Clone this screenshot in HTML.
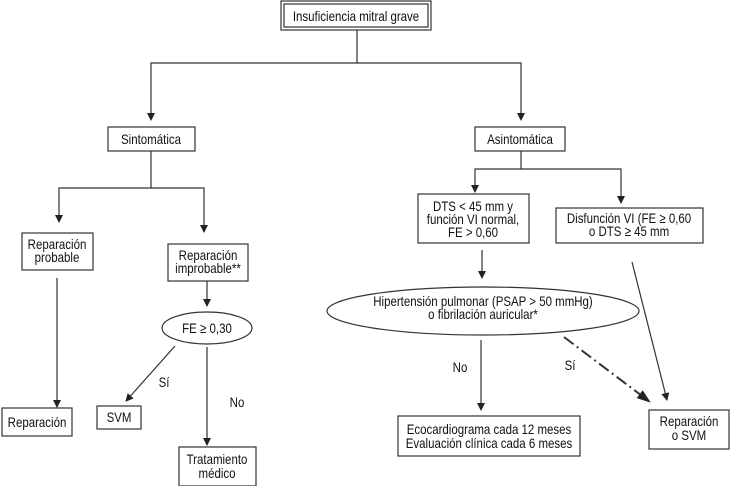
<!DOCTYPE html>
<html><head><meta charset="utf-8"><style>
body{margin:0;background:#fff}
svg text{font-family:"Liberation Sans Narrow","Liberation Sans",sans-serif;font-size:14px;fill:#111;text-anchor:middle}
</style></head><body>
<svg width="730" height="486" viewBox="0 0 730 486" xmlns="http://www.w3.org/2000/svg">
<defs><marker id="a" markerWidth="8" markerHeight="8" refX="7" refY="4" orient="auto" markerUnits="userSpaceOnUse"><path d="M0,0 L8,4 L0,8 z" fill="#222"/></marker>
<marker id="b" markerWidth="14" markerHeight="10" refX="13" refY="5" orient="auto" markerUnits="userSpaceOnUse"><path d="M0,0 L14,5 L0,10 z" fill="#222"/></marker></defs>
<g fill="none" stroke="#333" stroke-width="1.2">
<rect x="281" y="1" width="150" height="29"/><rect x="284" y="4" width="144" height="23"/>
<polyline points="357,30 357,63 151,63 151,120" marker-end="url(#a)"/>
<polyline points="357,63 521,63 521,120" marker-end="url(#a)"/>
<rect x="108" y="127" width="87" height="24"/>
<rect x="475" y="127" width="90" height="24"/>
<polyline points="151,151 151,188 59,188 59,222" marker-end="url(#a)"/>
<polyline points="151,188 204,188 204,232" marker-end="url(#a)"/>
<polyline points="521,151 521,169 475,169 475,192" marker-end="url(#a)"/>
<polyline points="521,169 621,169 621,203" marker-end="url(#a)"/>
<rect x="418" y="194" width="111" height="49"/>
<rect x="556" y="208" width="147" height="35"/>
<rect x="22" y="233" width="71" height="37"/>
<rect x="168" y="244" width="80" height="37"/>
<line x1="207" y1="281" x2="207" y2="306" marker-end="url(#a)"/>
<ellipse cx="207" cy="328" rx="45" ry="16"/>
<line x1="57" y1="278" x2="57" y2="407" marker-end="url(#a)"/>
<rect x="2" y="408" width="70" height="28"/>
<rect x="97" y="406" width="44" height="23"/>
<line x1="175" y1="346" x2="126" y2="401" marker-end="url(#a)"/>
<line x1="207" y1="347" x2="207" y2="445" marker-end="url(#a)"/>
<rect x="179" y="447" width="77" height="39"/>
<line x1="482" y1="250" x2="482" y2="278" marker-end="url(#a)"/>
<ellipse cx="483" cy="311" rx="156" ry="24"/>
<line x1="481" y1="340" x2="481" y2="410" marker-end="url(#a)"/>
<rect x="398" y="416" width="182" height="40"/>
<line x1="564" y1="337" x2="650" y2="402" stroke-width="2" stroke-dasharray="12,4,2,4" marker-end="url(#b)"/>
<line x1="632" y1="262" x2="667" y2="400" marker-end="url(#a)"/>
<rect x="649" y="410" width="80" height="39"/>
</g>
<g transform="translate(356,21) scale(0.82,1)"><text>Insuficiencia mitral grave</text></g>
<g transform="translate(151,144) scale(0.82,1)"><text>Sintomática</text></g>
<g transform="translate(520,144) scale(0.82,1)"><text>Asintomática</text></g>
<g transform="translate(473,211) scale(0.82,1)"><text>DTS &lt; 45 mm y</text></g>
<g transform="translate(473,224) scale(0.82,1)"><text>función VI normal,</text></g>
<g transform="translate(473,237) scale(0.82,1)"><text>FE &gt; 0,60</text></g>
<g transform="translate(629,223) scale(0.82,1)"><text>Disfunción VI (FE ≥ 0,60</text></g>
<g transform="translate(629,236) scale(0.82,1)"><text>o DTS ≥ 45 mm</text></g>
<g transform="translate(57,249) scale(0.82,1)"><text>Reparación</text></g>
<g transform="translate(57,262) scale(0.82,1)"><text>probable</text></g>
<g transform="translate(208,260) scale(0.82,1)"><text>Reparación</text></g>
<g transform="translate(208,273) scale(0.82,1)"><text>improbable**</text></g>
<g transform="translate(207,333) scale(0.82,1)"><text>FE ≥ 0,30</text></g>
<g transform="translate(483,306) scale(0.82,1)"><text>Hipertensión pulmonar (PSAP &gt; 50 mmHg)</text></g>
<g transform="translate(483,319) scale(0.82,1)"><text>o fibrilación auricular*</text></g>
<g transform="translate(37,427) scale(0.82,1)"><text>Reparación</text></g>
<g transform="translate(119,422) scale(0.82,1)"><text>SVM</text></g>
<g transform="translate(164,387) scale(0.82,1)"><text>Sí</text></g>
<g transform="translate(237,407) scale(0.82,1)"><text>No</text></g>
<g transform="translate(217,464) scale(0.82,1)"><text>Tratamiento</text></g>
<g transform="translate(217,478) scale(0.82,1)"><text>médico</text></g>
<g transform="translate(460,372) scale(0.82,1)"><text>No</text></g>
<g transform="translate(570,370) scale(0.82,1)"><text>Sí</text></g>
<g transform="translate(489,434) scale(0.82,1)"><text>Ecocardiograma cada 12 meses</text></g>
<g transform="translate(489,448) scale(0.82,1)"><text>Evaluación clínica cada 6 meses</text></g>
<g transform="translate(689,426) scale(0.82,1)"><text>Reparación</text></g>
<g transform="translate(689,440) scale(0.82,1)"><text>o SVM</text></g>
</svg>
</body></html>
